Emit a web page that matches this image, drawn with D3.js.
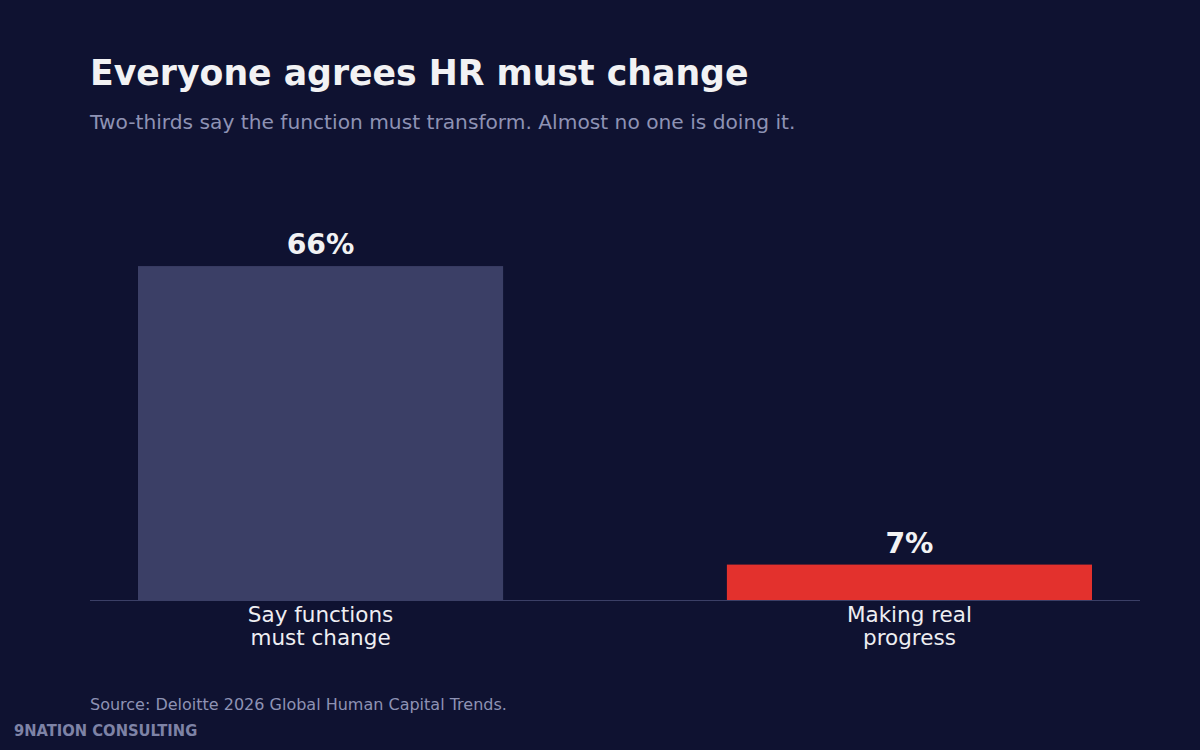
<!DOCTYPE html>
<html>
<head>
<meta charset="utf-8">
<script src="https://cdn.jsdelivr.net/npm/d3@7"></script>
<style>
  html, body { margin: 0; padding: 0; background: #0f1231; }
  svg { display: block; font-family: "DejaVu Sans", sans-serif; }
</style>
</head>
<body>
<svg id="chart"></svg>
<script>
// data
const categories = ["Say functions\nmust change", "Making real\nprogress"];
const values = [66, 7];
const valueLabels = ["66%", "7%"];
const barColors = ["#3b3f66", "#e3312d"];

function drawChart() {
    const width = 1200;
    const height = 750;
    const left = 90, right = 1140, bottom = 600, top = 216;

    const svg = d3.select("#chart")
        .attr("width", width)
        .attr("height", height);

    svg.append("rect")
        .attr("width", width)
        .attr("height", height)
        .attr("fill", "#0f1231");

    const x = d3.scaleBand()
        .domain(categories)
        .range([left, right])
        .paddingInner(0.38)
        .paddingOuter(0.0815);

    const y = d3.scaleLinear()
        .domain([0, 66 * 1.15])
        .range([bottom, top]);

    // title + subtitle
    svg.append("text")
        .attr("x", 90)
        .attr("y", 84.5)
        .attr("fill", "#f2f2f4")
        .style("font-size", "34.7px")
        .style("font-weight", "bold")
        .text("Everyone agrees HR must change");

    svg.append("text")
        .attr("x", 90)
        .attr("y", 128.5)
        .attr("fill", "#8e92b4")
        .style("font-size", "20.2px")
        .text("Two-thirds say the function must transform. Almost no one is doing it.");

    // bars
    svg.selectAll(".bar")
        .data(values)
        .enter().append("rect")
        .attr("class", "bar")
        .attr("x", (d, i) => x(categories[i]))
        .attr("y", d => y(d))
        .attr("width", x.bandwidth())
        .attr("height", d => y(0) - y(d))
        .attr("fill", (d, i) => barColors[i]);

    // value labels
    svg.selectAll(".value")
        .data(values)
        .enter().append("text")
        .attr("class", "value")
        .attr("x", (d, i) => x(categories[i]) + x.bandwidth() / 2)
        .attr("y", d => y(d) - 12)
        .attr("text-anchor", "middle")
        .attr("fill", "#f2f2f4")
        .style("font-size", "28.3px")
        .style("font-weight", "bold")
        .text((d, i) => valueLabels[i]);

    // baseline
    svg.append("line")
        .attr("x1", left)
        .attr("x2", right)
        .attr("y1", y(0) + 0.5)
        .attr("y2", y(0) + 0.5)
        .attr("stroke", "#3b3f66")
        .attr("stroke-width", 1);

    // category labels
    const cats = svg.selectAll(".cat")
        .data(categories)
        .enter().append("text")
        .attr("class", "cat")
        .attr("text-anchor", "middle")
        .attr("fill", "#eeeef2")
        .style("font-size", "21.5px");

    cats.selectAll("tspan")
        .data(d => d.split("\n").map(s => ({ s: s, c: d })))
        .enter().append("tspan")
        .attr("x", d => x(d.c) + x.bandwidth() / 2)
        .attr("y", (d, i) => 622 + i * 23)
        .text(d => d.s);

    // footer
    svg.append("text")
        .attr("x", 90)
        .attr("y", 709.5)
        .attr("fill", "#8e92b4")
        .style("font-size", "16px")
        .text("Source: Deloitte 2026 Global Human Capital Trends.");

    svg.append("text")
        .attr("x", 14)
        .attr("y", 736)
        .attr("fill", "#7e83a6")
        .style("font-family", "'DejaVu Sans Condensed', 'DejaVu Sans', sans-serif")
        .style("font-stretch", "condensed")
        .style("font-size", "16.4px")
        .style("font-weight", "bold")
        .text("9NATION CONSULTING");
}

drawChart()
</script>
</body>
</html>
